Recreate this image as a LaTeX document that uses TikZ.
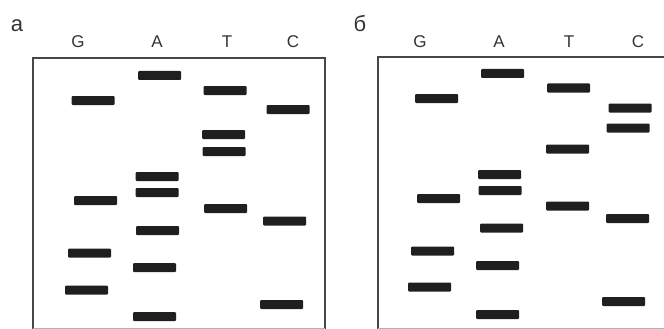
\documentclass[tikz,border=0pt]{standalone}
\usepackage{fontspec}
\setmainfont{Liberation Sans}
\begin{document}
\begin{tikzpicture}[x=1pt,y=-1pt,
  band/.style={fill=black!88,minimum width=43pt,minimum height=9pt,inner sep=0pt,rounded corners=1pt},
  lane/.style={text=black!80,font=\fontsize{17pt}{17pt}\selectfont,inner sep=0pt,anchor=base},
  panel/.style={text=black!80,font=\fontsize{22pt}{22pt}\selectfont,inner sep=0pt,anchor=base},
  frame/.style={draw=black!72,line width=2.2pt}]
\useasboundingbox (0,0) rectangle (664,329);
% panel a
\draw[frame] (33,329) -- (33,58) -- (325,58) -- (325,329);
\draw[black!30,line width=1pt] (33,328.5) -- (325,328.5);
\node[panel] (la) at (17,32) {а};
\node[lane] (aG) at (78,48) {G};
\node[lane] (aA) at (157,48) {A};
\node[lane] (aT) at (227,48) {T};
\node[lane] (aC) at (293,48) {C};
\foreach \x/\y [count=\i] in {159.5/75.5, 225/90.5, 93/100.5, 288/109.5, 223.5/134.5, 224/151.5,
  157/176.5, 157/192.5, 95.5/200.5, 225.5/208.5, 284.5/221, 157.5/230.5, 89.5/253, 154.5/267.5,
  86.5/290, 281.5/304.5, 154.5/316.5}
  \node[band] (a\i) at (\x,\y) {};
% panel b
\draw[frame] (378,329) -- (378,57) -- (664,57);
\draw[black!30,line width=1pt] (378,328.5) -- (664,328.5);
\node[panel] (lb) at (360,32) {б};
\node[lane] (bG) at (420,48) {G};
\node[lane] (bA) at (499,48) {A};
\node[lane] (bT) at (569,48) {T};
\node[lane] (bC) at (638,48) {C};
\foreach \x/\y [count=\i] in {502.5/73.5, 568.5/88, 436.5/98.5, 630/108, 628/128, 567.5/149,
  499.5/174.5, 500/190.5, 438.5/198.5, 567.5/206, 627.5/218.5, 501.5/228, 432.5/251, 497.5/265.5,
  429.5/287, 623.5/301.5, 497.5/314.5}
  \node[band] (b\i) at (\x,\y) {};
\end{tikzpicture}
\end{document}
